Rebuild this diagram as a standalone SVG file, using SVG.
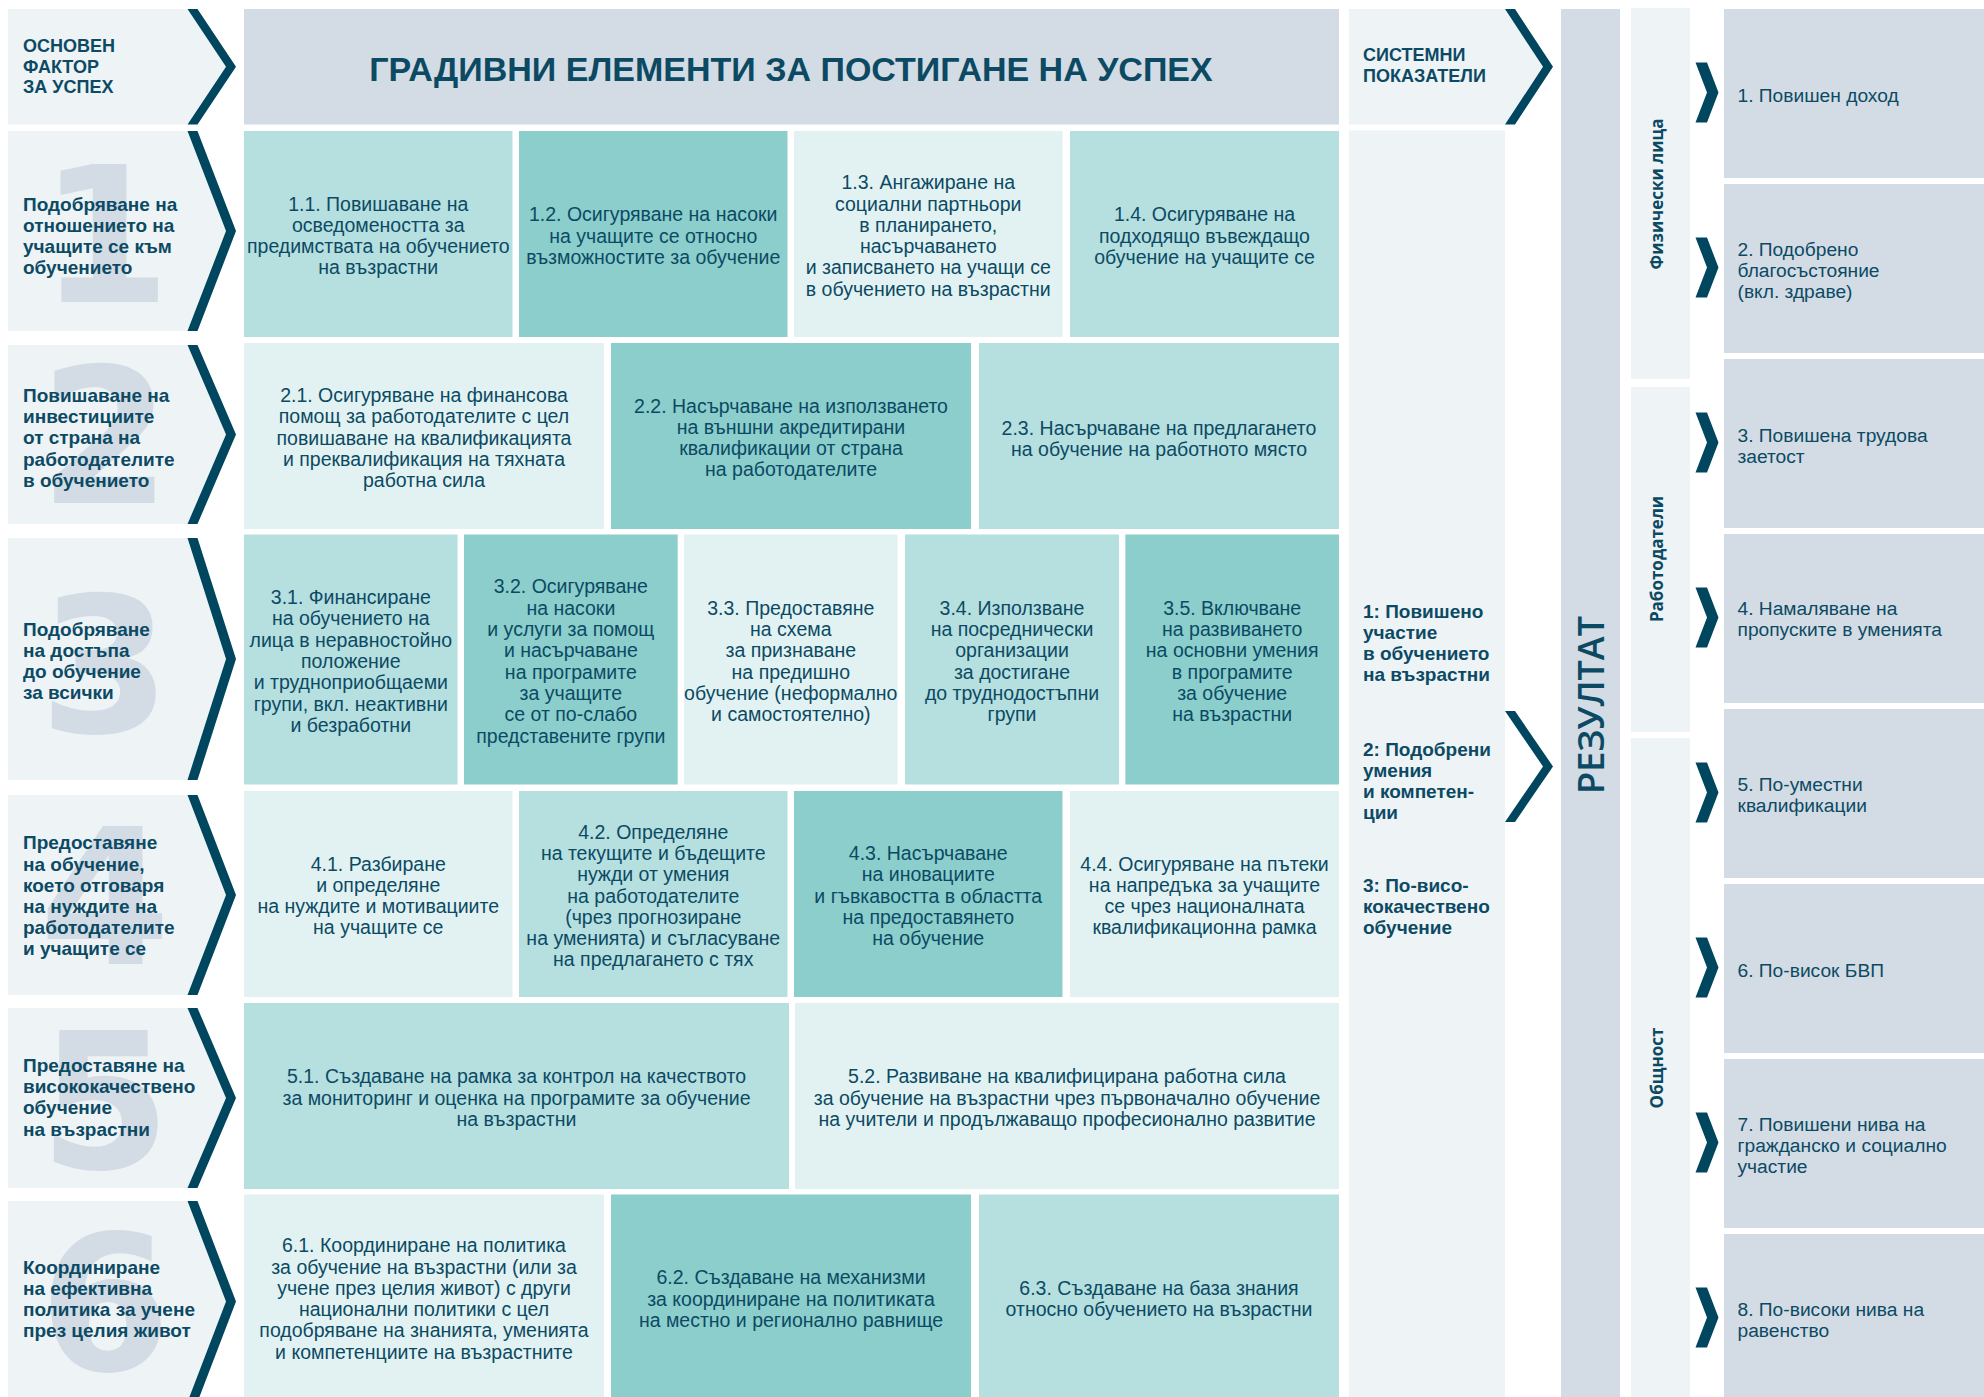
<svg xmlns="http://www.w3.org/2000/svg" width="1984" height="1397" viewBox="0 0 1984 1397">
<style>
.bg{fill:#ffffff}
.lbox{fill:#eef3f6}
.hdr{fill:#d3dce5}
.c1{fill:#8bcecb}
.c2{fill:#b6dfdf}
.c3{fill:#e2f2f2}
.chev{fill:#00465f}
.dig{font-family:"DejaVu Sans","Liberation Sans",sans-serif;font-weight:bold;font-size:189px;fill:#d3dce5;text-anchor:middle}
.hl{font-family:"Liberation Sans",Arial,sans-serif;font-weight:bold;font-size:18px;fill:#0c4a64}
.lab{font-family:"Liberation Sans",Arial,sans-serif;font-weight:bold;font-size:19px;fill:#0c4a64}
.bt{font-family:"Liberation Sans",Arial,sans-serif;font-size:19.5px;fill:#0c4a64;text-anchor:middle}
.ot{font-family:"Liberation Sans",Arial,sans-serif;font-size:19.2px;fill:#0c4a64}
.title{font-family:"Liberation Sans",Arial,sans-serif;font-weight:bold;font-size:34px;fill:#0c4a64;text-anchor:middle}
.rot{font-family:"Open Sans","Liberation Sans",sans-serif;font-weight:bold;font-size:17px;fill:#0c4a64;text-anchor:middle}
.res{font-family:"Open Sans","Liberation Sans",sans-serif;font-weight:600;font-size:36px;fill:#0c4a64;text-anchor:middle}
</style>
<rect class="bg" x="0" y="0" width="1984" height="1397"/>

<!-- Header row -->
<g id="factor-header">
<polygon class="lbox" points="8,9 187.5,9 226,66.75 187.5,124.5 8,124.5"/>
<text class="hl" x="23" y="51.7"><tspan x="23">ОСНОВЕН</tspan><tspan x="23" dy="20.8">ФАКТОР</tspan><tspan x="23" dy="20.8">ЗА УСПЕХ</tspan></text>
</g>
<g id="title-header">
<rect class="hdr" x="244" y="9" width="1095" height="115.5"/>
<text class="title" x="791" y="80.5">ГРАДИВНИ ЕЛЕМЕНТИ ЗА ПОСТИГАНЕ НА УСПЕХ</text>
</g>
<g id="system-header">
<polygon class="lbox" points="1349,9 1505,9 1543,66.75 1505,124.5 1349,124.5"/>
<text class="hl" x="1363" y="61"><tspan x="1363">СИСТЕМНИ</tspan><tspan x="1363" dy="21.3">ПОКАЗАТЕЛИ</tspan></text>
</g>

<!-- Left factor boxes -->
<g id="factor-1">
<polygon class="lbox" points="8,131 187.5,131 226,231 187.5,331 8,331"/>
<text class="dig" x="105" y="302">1</text>
<text class="lab" x="23" y="210.6"><tspan x="23">Подобряване на</tspan><tspan x="23" dy="21.2">отношението на</tspan><tspan x="23" dy="21.2">учащите се към</tspan><tspan x="23" dy="21.2">обучението</tspan></text>
</g>
<g id="factor-2">
<polygon class="lbox" points="8,345 187.5,345 226,434.5 187.5,524 8,524"/>
<text class="dig" x="105" y="503">2</text>
<text class="lab" x="23" y="401.9"><tspan x="23">Повишаване на</tspan><tspan x="23" dy="21.2">инвестициите</tspan><tspan x="23" dy="21.2">от страна на</tspan><tspan x="23" dy="21.2">работодателите</tspan><tspan x="23" dy="21.2">в обучението</tspan></text>
</g>
<g id="factor-3">
<polygon class="lbox" points="8,538 187.5,538 226,659 187.5,780 8,780"/>
<text class="dig" x="105" y="732">3</text>
<text class="lab" x="23" y="635.5"><tspan x="23">Подобряване</tspan><tspan x="23" dy="21.2">на достъпа</tspan><tspan x="23" dy="21.2">до обучение</tspan><tspan x="23" dy="21.2">за всички</tspan></text>
</g>
<g id="factor-4">
<polygon class="lbox" points="8,795 187.5,795 226,895 187.5,995 8,995"/>
<text class="dig" x="105" y="964">4</text>
<text class="lab" x="23" y="849.3"><tspan x="23">Предоставяне</tspan><tspan x="23" dy="21.2">на обучение,</tspan><tspan x="23" dy="21.2">което отговаря</tspan><tspan x="23" dy="21.2">на нуждите на</tspan><tspan x="23" dy="21.2">работодателите</tspan><tspan x="23" dy="21.2">и учащите се</tspan></text>
</g>
<g id="factor-5">
<polygon class="lbox" points="8,1008 187.5,1008 226,1098 187.5,1188 8,1188"/>
<text class="dig" x="105" y="1168">5</text>
<text class="lab" x="23" y="1072"><tspan x="23">Предоставяне на</tspan><tspan x="23" dy="21.2">висококачествено</tspan><tspan x="23" dy="21.2">обучение</tspan><tspan x="23" dy="21.2">на възрастни</tspan></text>
</g>
<g id="factor-6">
<polygon class="lbox" points="8,1201 187.5,1201 226,1301.5 187.5,1402 8,1402"/>
<text class="dig" x="105" y="1370">6</text>
<text class="lab" x="23" y="1273.5"><tspan x="23">Координиране</tspan><tspan x="23" dy="21.2">на ефективна</tspan><tspan x="23" dy="21.2">политика за учене</tspan><tspan x="23" dy="21.2">през целия живот</tspan></text>
</g>

<!-- Row 1 -->
<g id="b1-1"><rect class="c2" x="244" y="131" width="268.5" height="206"/>
<text class="bt" x="378.25" y="210.55"><tspan x="378.25">1.1. Повишаване на</tspan><tspan x="378.25" dy="21.3">осведомеността за</tspan><tspan x="378.25" dy="21.3">предимствата на обучението</tspan><tspan x="378.25" dy="21.3">на възрастни</tspan></text></g>
<g id="b1-2"><rect class="c1" x="519" y="131" width="268.5" height="206"/>
<text class="bt" x="653.25" y="221.2"><tspan x="653.25">1.2. Осигуряване на насоки</tspan><tspan x="653.25" dy="21.3">на учащите се относно</tspan><tspan x="653.25" dy="21.3">възможностите за обучение</tspan></text></g>
<g id="b1-3"><rect class="c3" x="794" y="131" width="268.5" height="206"/>
<text class="bt" x="928.25" y="189.25"><tspan x="928.25">1.3. Ангажиране на</tspan><tspan x="928.25" dy="21.3">социални партньори</tspan><tspan x="928.25" dy="21.3">в планирането,</tspan><tspan x="928.25" dy="21.3">насърчаването</tspan><tspan x="928.25" dy="21.3">и записването на учащи се</tspan><tspan x="928.25" dy="21.3">в обучението на възрастни</tspan></text></g>
<g id="b1-4"><rect class="c2" x="1070" y="131" width="269" height="206"/>
<text class="bt" x="1204.5" y="221.2"><tspan x="1204.5">1.4. Осигуряване на</tspan><tspan x="1204.5" dy="21.3">подходящо въвеждащо</tspan><tspan x="1204.5" dy="21.3">обучение на учащите се</tspan></text></g>

<!-- Row 2 -->
<g id="b2-1"><rect class="c3" x="244" y="343" width="360" height="186"/>
<text class="bt" x="424" y="401.9"><tspan x="424">2.1. Осигуряване на финансова</tspan><tspan x="424" dy="21.3">помощ за работодателите с цел</tspan><tspan x="424" dy="21.3">повишаване на квалификацията</tspan><tspan x="424" dy="21.3">и преквалификация на тяхната</tspan><tspan x="424" dy="21.3">работна сила</tspan></text></g>
<g id="b2-2"><rect class="c1" x="611" y="343" width="360" height="186"/>
<text class="bt" x="791" y="412.55"><tspan x="791">2.2. Насърчаване на използването</tspan><tspan x="791" dy="21.3">на външни акредитирани</tspan><tspan x="791" dy="21.3">квалификации от страна</tspan><tspan x="791" dy="21.3">на работодателите</tspan></text></g>
<g id="b2-3"><rect class="c2" x="979" y="343" width="360" height="186"/>
<text class="bt" x="1159" y="434.5"><tspan x="1159">2.3. Насърчаване на предлагането</tspan><tspan x="1159" dy="21.3">на обучение на работното място</tspan></text></g>

<!-- Row 3 -->
<g id="b3-1"><rect class="c2" x="244" y="534.5" width="213.6" height="250"/>
<text class="bt" x="350.8" y="604.1"><tspan x="350.8">3.1. Финансиране</tspan><tspan x="350.8" dy="21.3">на обучението на</tspan><tspan x="350.8" dy="21.3">лица в неравностойно</tspan><tspan x="350.8" dy="21.3">положение</tspan><tspan x="350.8" dy="21.3">и трудноприобщаеми</tspan><tspan x="350.8" dy="21.3">групи, вкл. неактивни</tspan><tspan x="350.8" dy="21.3">и безработни</tspan></text></g>
<g id="b3-2"><rect class="c1" x="464" y="534.5" width="213.7" height="250"/>
<text class="bt" x="570.85" y="593.45"><tspan x="570.85">3.2. Осигуряване</tspan><tspan x="570.85" dy="21.3">на насоки</tspan><tspan x="570.85" dy="21.3">и услуги за помощ</tspan><tspan x="570.85" dy="21.3">и насърчаване</tspan><tspan x="570.85" dy="21.3">на програмите</tspan><tspan x="570.85" dy="21.3">за учащите</tspan><tspan x="570.85" dy="21.3">се от по-слабо</tspan><tspan x="570.85" dy="21.3">представените групи</tspan></text></g>
<g id="b3-3"><rect class="c3" x="684" y="534.5" width="213.6" height="250"/>
<text class="bt" x="790.8" y="614.75"><tspan x="790.8">3.3. Предоставяне</tspan><tspan x="790.8" dy="21.3">на схема</tspan><tspan x="790.8" dy="21.3">за признаване</tspan><tspan x="790.8" dy="21.3">на предишно</tspan><tspan x="790.8" dy="21.3">обучение (неформално</tspan><tspan x="790.8" dy="21.3">и самостоятелно)</tspan></text></g>
<g id="b3-4"><rect class="c2" x="905" y="534.5" width="214" height="250"/>
<text class="bt" x="1012" y="614.75"><tspan x="1012">3.4. Използване</tspan><tspan x="1012" dy="21.3">на посреднически</tspan><tspan x="1012" dy="21.3">организации</tspan><tspan x="1012" dy="21.3">за достигане</tspan><tspan x="1012" dy="21.3">до труднодостъпни</tspan><tspan x="1012" dy="21.3">групи</tspan></text></g>
<g id="b3-5"><rect class="c1" x="1125.4" y="534.5" width="213.6" height="250"/>
<text class="bt" x="1232.2" y="614.75"><tspan x="1232.2">3.5. Включване</tspan><tspan x="1232.2" dy="21.3">на развиването</tspan><tspan x="1232.2" dy="21.3">на основни умения</tspan><tspan x="1232.2" dy="21.3">в програмите</tspan><tspan x="1232.2" dy="21.3">за обучение</tspan><tspan x="1232.2" dy="21.3">на възрастни</tspan></text></g>

<!-- Row 4 -->
<g id="b4-1"><rect class="c3" x="244" y="791" width="268.5" height="206"/>
<text class="bt" x="378.25" y="870.55"><tspan x="378.25">4.1. Разбиране</tspan><tspan x="378.25" dy="21.3">и определяне</tspan><tspan x="378.25" dy="21.3">на нуждите и мотивациите</tspan><tspan x="378.25" dy="21.3">на учащите се</tspan></text></g>
<g id="b4-2"><rect class="c2" x="519" y="791" width="268.5" height="206"/>
<text class="bt" x="653.25" y="838.6"><tspan x="653.25">4.2. Определяне</tspan><tspan x="653.25" dy="21.3">на текущите и бъдещите</tspan><tspan x="653.25" dy="21.3">нужди от умения</tspan><tspan x="653.25" dy="21.3">на работодателите</tspan><tspan x="653.25" dy="21.3">(чрез прогнозиране</tspan><tspan x="653.25" dy="21.3">на уменията) и съгласуване</tspan><tspan x="653.25" dy="21.3">на предлагането с тях</tspan></text></g>
<g id="b4-3"><rect class="c1" x="794" y="791" width="268.5" height="206"/>
<text class="bt" x="928.25" y="859.9"><tspan x="928.25">4.3. Насърчаване</tspan><tspan x="928.25" dy="21.3">на иновациите</tspan><tspan x="928.25" dy="21.3">и гъвкавостта в областта</tspan><tspan x="928.25" dy="21.3">на предоставянето</tspan><tspan x="928.25" dy="21.3">на обучение</tspan></text></g>
<g id="b4-4"><rect class="c3" x="1070" y="791" width="269" height="206"/>
<text class="bt" x="1204.5" y="870.55"><tspan x="1204.5">4.4. Осигуряване на пътеки</tspan><tspan x="1204.5" dy="21.3">на напредъка за учащите</tspan><tspan x="1204.5" dy="21.3">се чрез националната</tspan><tspan x="1204.5" dy="21.3">квалификационна рамка</tspan></text></g>

<!-- Row 5 -->
<g id="b5-1"><rect class="c2" x="244" y="1003" width="545" height="186"/>
<text class="bt" x="516.5" y="1083.2"><tspan x="516.5">5.1. Създаване на рамка за контрол на качеството</tspan><tspan x="516.5" dy="21.3">за мониторинг и оценка на програмите за обучение</tspan><tspan x="516.5" dy="21.3">на възрастни</tspan></text></g>
<g id="b5-2"><rect class="c3" x="795" y="1003" width="544" height="186"/>
<text class="bt" x="1067" y="1083.2"><tspan x="1067">5.2. Развиване на квалифицирана работна сила</tspan><tspan x="1067" dy="21.3">за обучение на възрастни чрез първоначално обучение</tspan><tspan x="1067" dy="21.3">на учители и продължаващо професионално развитие</tspan></text></g>

<!-- Row 6 -->
<g id="b6-1"><rect class="c3" x="244" y="1194.5" width="360" height="210"/>
<text class="bt" x="424" y="1252.25"><tspan x="424">6.1. Координиране на политика</tspan><tspan x="424" dy="21.3">за обучение на възрастни (или за</tspan><tspan x="424" dy="21.3">учене през целия живот) с други</tspan><tspan x="424" dy="21.3">национални политики с цел</tspan><tspan x="424" dy="21.3">подобряване на знанията, уменията</tspan><tspan x="424" dy="21.3">и компетенциите на възрастните</tspan></text></g>
<g id="b6-2"><rect class="c1" x="611" y="1194.5" width="360" height="210"/>
<text class="bt" x="791" y="1284.2"><tspan x="791">6.2. Създаване на механизми</tspan><tspan x="791" dy="21.3">за координиране на политиката</tspan><tspan x="791" dy="21.3">на местно и регионално равнище</tspan></text></g>
<g id="b6-3"><rect class="c2" x="979" y="1194.5" width="360" height="210"/>
<text class="bt" x="1159" y="1294.85"><tspan x="1159">6.3. Създаване на база знания</tspan><tspan x="1159" dy="21.3">относно обучението на възрастни</tspan></text></g>

<!-- Systemic indicators -->
<g id="system-body">
<rect class="lbox" x="1349" y="130.5" width="156" height="1270"/>
<text class="lab" x="1363" y="618"><tspan x="1363">1: Повишено</tspan><tspan x="1363" dy="21">участие</tspan><tspan x="1363" dy="21">в обучението</tspan><tspan x="1363" dy="21">на възрастни</tspan></text>
<text class="lab" x="1363" y="756"><tspan x="1363">2: Подобрени</tspan><tspan x="1363" dy="21">умения</tspan><tspan x="1363" dy="21">и компетен-</tspan><tspan x="1363" dy="21">ции</tspan></text>
<text class="lab" x="1363" y="892"><tspan x="1363">3: По-висо-</tspan><tspan x="1363" dy="21">кокачествено</tspan><tspan x="1363" dy="21">обучение</tspan></text>
</g>

<!-- Result -->
<g id="result">
<rect class="hdr" x="1561" y="9" width="59" height="1392"/>
<text class="res" transform="translate(1604,705) rotate(-90)" x="0" y="0">РЕЗУЛТАТ</text>
</g>

<!-- Categories -->
<g id="cat-individuals">
<rect class="lbox" x="1631" y="8" width="59" height="371"/>
<text class="rot" transform="translate(1663,194) rotate(-90)" x="0" y="0">Физически лица</text>
</g>
<g id="cat-employers">
<rect class="lbox" x="1631" y="387" width="59" height="345"/>
<text class="rot" transform="translate(1663,559) rotate(-90)" x="0" y="0">Работодатели</text>
</g>
<g id="cat-society">
<rect class="lbox" x="1631" y="738" width="59" height="663"/>
<text class="rot" transform="translate(1663,1068) rotate(-90)" x="0" y="0">Общност</text>
</g>

<!-- Outcomes -->
<g id="out-1"><rect class="hdr" x="1724" y="9" width="260" height="169"/>
<text class="ot" x="1737.5" y="101.5">1. Повишен доход</text></g>
<g id="out-2"><rect class="hdr" x="1724" y="184" width="260" height="169"/>
<text class="ot" x="1737.5" y="255.7"><tspan x="1737.5">2. Подобрено</tspan><tspan x="1737.5" dy="21">благосъстояние</tspan><tspan x="1737.5" dy="21">(вкл. здраве)</tspan></text></g>
<g id="out-3"><rect class="hdr" x="1724" y="359" width="260" height="169"/>
<text class="ot" x="1737.5" y="441.5"><tspan x="1737.5">3. Повишена трудова</tspan><tspan x="1737.5" dy="21">заетост</tspan></text></g>
<g id="out-4"><rect class="hdr" x="1724" y="534" width="260" height="169"/>
<text class="ot" x="1737.5" y="615"><tspan x="1737.5">4. Намаляване на</tspan><tspan x="1737.5" dy="21">пропуските в уменията</tspan></text></g>
<g id="out-5"><rect class="hdr" x="1724" y="709" width="260" height="169"/>
<text class="ot" x="1737.5" y="791"><tspan x="1737.5">5. По-уместни</tspan><tspan x="1737.5" dy="21">квалификации</tspan></text></g>
<g id="out-6"><rect class="hdr" x="1724" y="884" width="260" height="169"/>
<text class="ot" x="1737.5" y="976.5">6. По-висок БВП</text></g>
<g id="out-7"><rect class="hdr" x="1724" y="1059" width="260" height="169"/>
<text class="ot" x="1737.5" y="1131"><tspan x="1737.5">7. Повишени нива на</tspan><tspan x="1737.5" dy="21">гражданско и социално</tspan><tspan x="1737.5" dy="21">участие</tspan></text></g>
<g id="out-8"><rect class="hdr" x="1724" y="1234" width="260" height="169"/>
<text class="ot" x="1737.5" y="1316"><tspan x="1737.5">8. По-високи нива на</tspan><tspan x="1737.5" dy="21">равенство</tspan></text></g>

<!-- Connectors (chevrons) -->
<g id="connectors" class="chev">
<polygon points="187.5,9 197.5,9 236,66.75 197.5,124.5 187.5,124.5 226,66.75"/>
<polygon points="187.5,131 197.5,131 236,231 197.5,331 187.5,331 226,231"/>
<polygon points="187.5,345 197.5,345 236,434.5 197.5,524 187.5,524 226,434.5"/>
<polygon points="187.5,538 197.5,538 236,659 197.5,780 187.5,780 226,659"/>
<polygon points="187.5,795 197.5,795 236,895 197.5,995 187.5,995 226,895"/>
<polygon points="187.5,1008 197.5,1008 236,1098 197.5,1188 187.5,1188 226,1098"/>
<polygon points="187.5,1201 197.5,1201 236,1301.5 197.5,1402 187.5,1402 226,1301.5"/>
<polygon points="1505,9 1515,9 1553,66.75 1515,124.5 1505,124.5 1543,66.75"/>
<polygon points="1505,711 1515,711 1553,766.5 1515,822 1505,822 1543,766.5"/>
<polygon points="1695.5,62.5 1707,62.5 1718.5,92.5 1707,122.5 1695.5,122.5 1707,92.5"/>
<polygon points="1695.5,237.5 1707,237.5 1718.5,267.5 1707,297.5 1695.5,297.5 1707,267.5"/>
<polygon points="1695.5,412.5 1707,412.5 1718.5,442.5 1707,472.5 1695.5,472.5 1707,442.5"/>
<polygon points="1695.5,587.5 1707,587.5 1718.5,617.5 1707,647.5 1695.5,647.5 1707,617.5"/>
<polygon points="1695.5,762.5 1707,762.5 1718.5,792.5 1707,822.5 1695.5,822.5 1707,792.5"/>
<polygon points="1695.5,937.5 1707,937.5 1718.5,967.5 1707,997.5 1695.5,997.5 1707,967.5"/>
<polygon points="1695.5,1112.5 1707,1112.5 1718.5,1142.5 1707,1172.5 1695.5,1172.5 1707,1142.5"/>
<polygon points="1695.5,1287.5 1707,1287.5 1718.5,1317.5 1707,1347.5 1695.5,1347.5 1707,1317.5"/>
</g>
</svg>
